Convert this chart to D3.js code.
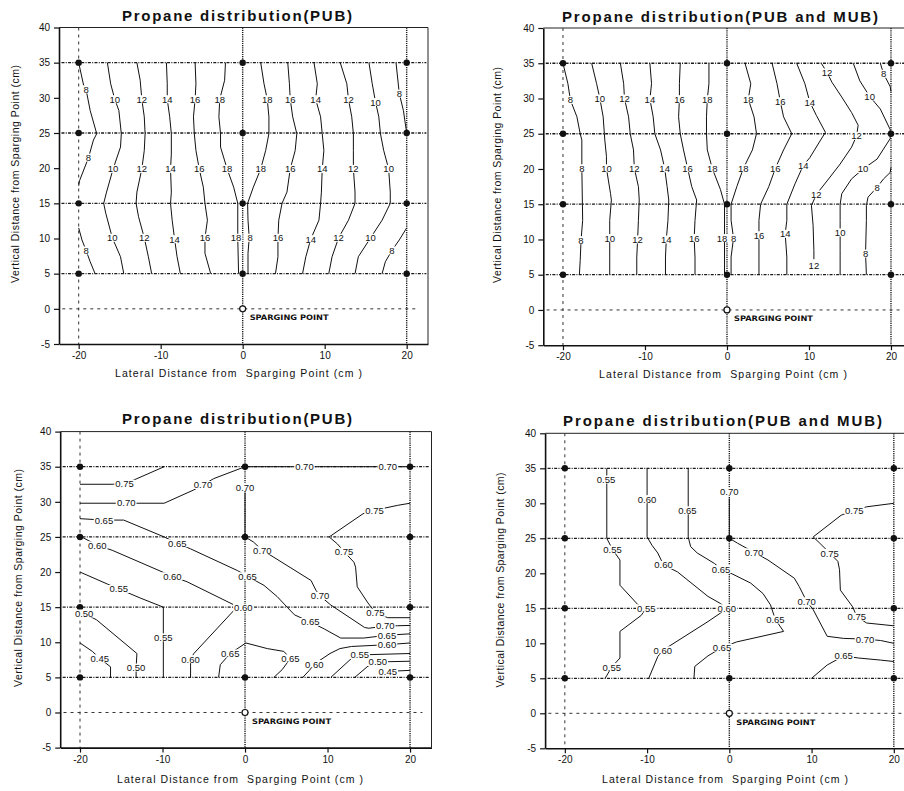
<!DOCTYPE html>
<html>
<head>
<meta charset="utf-8">
<script src="https://cdn.jsdelivr.net/npm/d3@7"></script>
<style>
  body { margin: 0; background: #fff; }
  svg { display: block; }
</style>
</head>
<body>
<svg id="chart" width="904" height="791"></svg>
<script>
// ---------- shared axis / layout values ----------
const xDomain = [-22.4, 22.6];
const yDomain = [-5, 40];
const xTicks = [-20, -10, 0, 10, 20];
const yTicks = [-5, 0, 5, 10, 15, 20, 25, 30, 35, 40];
const wellX = [-20, 0, 20];          // monitoring well positions (cm)
const portDepths = [35, 25, 15, 5];  // sampling port depths (cm)
const spargePoint = [0, 0];
const titles = [
  "Propane distribution(PUB)",
  "Propane distribution(PUB and MUB)",
  "Propane distribution(PUB)",
  "Propane distribution(PUB and MUB)"
];
const xTitle = "Lateral Distance from  Sparging Point (cm )";
const yTitle = "Vertical Distance from Sparging Point (cm)";
const spargeText = "SPARGING POINT";

// ---------- isolines: PUB, concentration ----------
const pubConcLines = [
  { level: 8,  path: [[-20,35],[-19.4,31.8],[-19.1,31.2],[-18.6,28.2],[-17.8,24.9],[-18.2,24],[-18.8,21.5],[-19.9,18.2],[-20,17.5]] },
  { level: 8,  path: [[-20,11.5],[-19.6,9.8],[-19.1,8.3],[-18.6,6.7],[-18,5]] },
  { level: 10, path: [[-16.5,35],[-16.1,32],[-15.6,29.8],[-15.1,28.2],[-14.8,24.9],[-14.9,23],[-15.8,19.9],[-16.6,16.6],[-16.95,15],[-16.7,13.6],[-15.9,10.1],[-14.9,7.4],[-14.5,5]] },
  { level: 12, path: [[-12.9,35],[-12.5,32.5],[-12.3,29.8],[-12.0,27.3],[-11.9,24.9],[-12.0,22.5],[-12.3,19.9],[-12.9,16.6],[-13.0,15],[-12.7,13.1],[-12.0,10.1],[-11.5,7.4],[-11.1,5]] },
  { level: 14, path: [[-9.3,35],[-9.2,32],[-9.2,29.8],[-8.9,27.3],[-8.7,24.9],[-8.7,22],[-8.8,19.9],[-8.7,16.6],[-8.8,15],[-8.6,12.6],[-8.3,9.9],[-8.0,7.4],[-7.6,5]] },
  { level: 16, path: [[-5.8,35],[-5.7,32],[-5.8,29.8],[-6.0,27.3],[-5.9,24.9],[-5.7,22.5],[-5.3,19.9],[-4.8,17.3],[-4.6,15],[-4.3,12.6],[-4.6,10.1],[-4.6,7.9],[-3.9,5]] },
  { level: 18, path: [[-2.1,35],[-2.2,32.5],[-2.8,29.8],[-2.9,27.3],[-2.7,24.9],[-2.7,23],[-1.9,19.9],[-1.1,17.3],[-0.6,15],[-0.6,10.1],[-0.5,5]] },
  { level: 18, path: [[2.2,35],[2.6,32],[3.0,29.8],[3.2,27.3],[3.2,24.9],[2.8,22.5],[2.2,19.9],[1.3,17.3],[0.6,15],[0.65,12.6],[0.8,10.1],[0.65,7.9],[0.65,5]] },
  { level: 16, path: [[5.5,35],[5.7,32],[5.8,29.8],[6.1,27.3],[6.6,24.9],[6.4,22.5],[5.8,19.9],[5.4,16.6],[4.8,15],[4.4,12.6],[4.3,10.1],[4.3,7.4],[4.0,5]] },
  { level: 14, path: [[8.7,35],[9.1,32],[8.9,29.8],[9.5,27.3],[9.7,24.9],[9.9,22.5],[9.7,19.9],[9.6,16.6],[9.5,15],[9.3,12.6],[8.3,9.9],[7.7,7.4],[7.3,5]] },
  { level: 12, path: [[11.9,35],[12.7,32],[12.9,29.8],[13.3,27.3],[13.5,24.9],[13.5,22.5],[13.5,19.9],[13.7,16.6],[13.7,15],[12.9,12.6],[11.7,10.1],[10.9,7.4],[10.5,5]] },
  { level: 10, path: [[15.4,35],[15.8,32],[16.2,29.4],[16.6,27.3],[16.8,24.9],[17.2,22.5],[17.8,19.9],[18.0,16.6],[18.0,15],[17.0,12.6],[15.6,10.1],[14.1,7.4],[13.7,5]] },
  { level: 8,  path: [[18.7,35],[19.1,30.6],[19.6,28.2],[20,25]] },
  { level: 8,  path: [[20,11.5],[19.1,9.8],[18.2,8.3],[17.4,6.7],[17.0,5]] }
];
const pubConcLabels = [
  ["8",-19.1,31.2],["10",-15.6,29.8],["12",-12.3,29.8],["14",-9.2,29.8],["16",-5.8,29.8],["18",-2.8,29.8],
  ["18",3.0,29.8],["16",5.8,29.8],["14",8.9,29.8],["12",12.9,29.8],["10",16.2,29.4],["8",19.1,30.6],
  ["8",-18.8,21.5],["10",-15.8,19.9],["12",-12.3,19.9],["14",-8.8,19.9],["16",-5.3,19.9],["18",-1.9,19.9],
  ["18",2.2,19.9],["16",5.8,19.9],["14",9.7,19.9],["12",13.5,19.9],["10",17.8,19.9],
  ["8",-19.1,8.3],["10",-15.9,10.1],["12",-12.0,10.1],["14",-8.3,9.9],["16",-4.6,10.1],["18",-0.8,10.1],
  ["8",0.9,10.1],["16",4.3,10.1],["14",8.3,9.9],["12",11.7,10.1],["10",15.6,10.1],["8",18.2,8.3]
];

// ---------- isolines: PUB and MUB, concentration ----------
const mubConcLines = [
  { level: 8,  path: [[-20,35],[-19.4,32.1],[-19.1,29.8],[-18.3,27.4],[-17.9,25],[-17.7,24.1],[-17.7,20.1],[-17.6,12.7],[-17.8,9.9],[-17.9,7],[-18.0,5]] },
  { level: 10, path: [[-16.5,35],[-15.9,32.1],[-15.5,30],[-15.1,27.4],[-14.9,24.1],[-14.7,21.8],[-14.7,20.1],[-14.2,16.5],[-14.1,15.6],[-14.3,12.7],[-14.3,10.2],[-14.3,7.5],[-14.3,5]] },
  { level: 12, path: [[-13.0,35],[-12.6,32.1],[-12.5,30],[-12.0,27.4],[-11.8,25],[-11.4,22.7],[-11.3,20.1],[-10.8,17.5],[-10.7,15.6],[-10.8,12.7],[-10.9,10],[-11.0,7.5],[-11.0,5]] },
  { level: 14, path: [[-9.4,35],[-9.2,32.1],[-9.4,29.9],[-9.0,27.4],[-8.8,25],[-8.1,22.7],[-7.6,20.1],[-7.3,17.5],[-7.1,15.6],[-7.2,12.7],[-7.4,10],[-7.5,7.5],[-7.5,5]] },
  { level: 16, path: [[-5.7,35],[-5.8,32.1],[-5.8,29.9],[-5.9,27.4],[-5.7,25],[-5.3,22.7],[-4.8,20.1],[-4.3,17.5],[-3.7,15.6],[-3.9,12.7],[-4.0,10.2],[-3.9,7.5],[-3.9,5]] },
  { level: 18, path: [[-2.2,35],[-2.2,32.1],[-2.4,29.9],[-2.5,27.4],[-2.5,25],[-2.4,22.7],[-1.8,20.1],[-0.8,17.1],[-0.3,15],[-0.3,5]] },
  { level: 18, path: [[2.2,35],[2.9,32.1],[2.6,29.9],[3.3,27.4],[3.6,25],[3.1,22.7],[2.0,20.1],[1.2,17.5],[0.5,15],[0.5,12.7],[0.8,10.2],[0.5,7.5],[0.5,5]] },
  { level: 16, path: [[5.5,35],[6.1,32.1],[6.5,29.6],[6.9,27.4],[7.9,25],[6.9,22.7],[5.9,20.1],[5.1,17.5],[4.1,15],[3.9,12.7],[3.9,10.6],[3.9,7.5],[3.9,5]] },
  { level: 14, path: [[8.5,35],[9.5,32.1],[10.1,29.5],[10.9,27.6],[12.0,25.2],[10.1,21.6],[9.3,20.5],[8.3,17.9],[7.3,15],[7.3,12.7],[7.1,10.8],[7.3,7.5],[7.3,5]] },
  { level: 12, path: [[11.5,35],[12.2,33.7],[12.8,32.3],[14.0,30.2],[15.2,28.0],[16.0,26.2],[15.8,24.7],[15.2,23.1],[13.8,20.7],[12.2,18.3],[10.9,16.4],[10.3,14.8],[10.5,12],[10.6,8.4],[10.6,7.2]] },
  { level: 10, path: [[15.4,35],[16.2,32.5],[17.4,30.3],[18.7,28.5],[19.9,25.6],[19.9,24.3],[18.3,21.4],[16.6,20.0],[15.2,18.6],[14.0,16.5],[13.8,15],[13.8,12.7],[13.8,11],[13.8,8.4],[13.8,5]] },
  { level: 8,  path: [[18.7,35],[19.1,33.5],[19.9,31.7],[20,31]] },
  { level: 8,  path: [[20,20.2],[19.9,19.5],[19.1,18.6],[18.3,17.4],[17.2,16],[17.0,14.8],[17.0,12.7],[16.9,8],[17.0,5]] }
];
const mubConcLabels = [
  ["8",-19.1,29.8],["10",-15.5,30],["12",-12.5,30],["14",-9.4,29.9],["16",-5.8,29.9],["18",-2.4,29.9],
  ["18",2.6,29.9],["16",6.5,29.6],["14",10.1,29.5],["12",12.2,33.7],["10",17.4,30.3],["8",19.1,33.5],
  ["8",-17.7,20.1],["10",-14.7,20.1],["12",-11.3,20.1],["14",-7.6,20.1],["16",-4.8,20.1],["18",-1.8,20.1],
  ["18",2.0,20.1],["16",5.9,20.1],["14",9.3,20.5],["12",15.8,24.7],["10",16.6,20.0],["12",10.9,16.4],["8",18.3,17.4],
  ["8",-17.8,9.9],["10",-14.3,10.2],["12",-10.9,10],["14",-7.4,10],["16",-4.0,10.2],["18",-0.6,10.2],
  ["8",0.8,10.2],["16",3.9,10.6],["14",7.1,10.8],["12",10.6,6.3],["10",13.8,11],["8",16.9,8.0]
];

// ---------- isolines: PUB, fraction ----------
const pubFracLines = [
  { level: 0.75, path: [[-20,32.5],[-16.1,32.5],[-14.6,32.6],[-13.1,33.3],[-9.8,35]] },
  { level: 0.70, path: [[-20,29.8],[-15.7,29.8],[-14.4,29.9],[-13.1,29.8],[-9.8,29.8],[-6.2,31.7],[-5.1,32.4],[-3.8,33.3],[0,35],[20,35]] },
  { level: 0.70, path: [[0,31.3],[0,25],[1,24.3],[2.1,23.1],[3.5,22.1],[8.0,18.8],[8.6,17.4],[9.1,16.6],[10.4,15.3],[14.5,12.1],[15.0,12.0],[17.0,12.3],[18.5,12.35],[20,12.4]] },
  { level: 0.75, path: [[20,29.8],[18.5,29.5],[15.7,28.8],[14.3,28.3],[10.2,25],[11.2,24],[12.0,22.9],[13.2,21.4],[13.4,20.7],[13.6,17.9],[14.9,15.6],[15.8,14.2],[17.3,13.5],[20,13.5]] },
  { level: 0.65, path: [[-20,27.6],[-17.1,27.4],[-14.7,27.4],[-9.8,25],[-8.2,24.1],[-6.6,23.3],[-0.9,20.2],[0.3,19.4],[2.3,18.1],[3.9,16.5],[5.1,15],[6.0,13.9],[7.9,12.9],[9.6,11.9],[11.6,10.6],[14.4,10.6],[17.2,11.0],[20,11.2]] },
  { level: 0.60, path: [[-19.8,25],[-17.9,23.8],[-16.1,23.1],[-9.8,19.9],[-8.8,19.4],[-7.0,18.6],[-1.3,15.3],[-0.2,14.9],[-1.3,14.6],[-6.2,8.4],[-6.6,7.6],[-6.6,6.5],[-6.6,5]] },
  { level: 0.55, path: [[-20,20],[-16.7,18.3],[-15.3,17.6],[-14.5,17.2],[-12.7,16.3],[-9.9,15],[-9.9,5]] },
  { level: 0.50, path: [[-19.5,14.1],[-18,13.2],[-13.1,8.4],[-13.2,6.4],[-13.2,5]] },
  { level: 0.45, path: [[-20,9.9],[-18.5,8.7],[-17.6,7.7],[-16.3,6.5],[-16.3,5]] },
  { level: 0.65, path: [[-3.2,5],[-3.0,6.8],[-1.8,8.4],[0.1,9.9],[2.7,9.1],[4.7,8.7],[5.5,7.7],[4.5,6.1],[3.5,5]] },
  { level: 0.60, path: [[7.0,5],[7.8,6],[8.4,6.9],[10.3,8.4],[11.5,9.1],[12.9,9.4],[17.2,9.65],[20,9.9]] },
  { level: 0.55, path: [[10.4,5],[12.9,7.7],[13.9,8.2],[20,8.4]] },
  { level: 0.50, path: [[13.3,5],[14.9,6.6],[16.1,7.2],[20,7.3]] },
  { level: 0.45, path: [[17.3,5.85],[20,6.0]] }
];
const pubFracLabels = [
  ["0.75",-14.6,32.6],["0.70",-14.4,29.9],["0.70",-5.1,32.4],["0.70",0,32.1],["0.70",7.2,35],["0.70",17.3,35],
  ["0.65",-17.1,27.4],["0.65",-8.2,24.1],["0.75",15.7,28.8],["0.60",-17.9,23.8],["0.70",2.1,23.1],["0.75",12.0,22.9],
  ["0.60",-8.8,19.4],["0.65",0.3,19.4],["0.55",-15.3,17.6],["0.70",9.1,16.6],["0.50",-19.5,14.1],["0.60",-0.2,14.9],
  ["0.75",15.8,14.2],["0.65",7.9,12.9],["0.70",17.0,12.35],["0.65",17.2,11.0],["0.55",-9.9,10.7],["0.60",17.2,9.65],
  ["0.45",-17.6,7.7],["0.50",-13.2,6.4],["0.60",-6.6,7.6],["0.65",-1.8,8.4],["0.65",5.5,7.7],["0.60",8.4,6.9],
  ["0.55",13.9,8.2],["0.50",16.1,7.2],["0.45",17.3,5.85]
];

// ---------- isolines: PUB and MUB, fraction ----------
const mubFracLines = [
  { level: 0.55, path: [[-14.9,35],[-14.9,25],[-14.2,23.4],[-13.3,21.9],[-13.3,18.3],[-11.1,15.5],[-10.1,15.0],[-10.7,14.0],[-13.3,11.7],[-13.3,7.9],[-14.3,6.6],[-15.1,5]] },
  { level: 0.60, path: [[-10,35],[-10,25.2],[-9.4,24],[-8.7,22.9],[-8.0,21.2],[-6.3,20.2],[-2.6,16.7],[-1.1,15.7],[-0.3,15],[-1.1,14.3],[-2.6,13.1],[-8.1,9.0],[-8.7,8.1],[-9.8,5]] },
  { level: 0.65, path: [[-5,35],[-5,25.2],[-4.7,23.8],[-3.9,22.9],[-1.8,21.4],[-1.0,20.6],[0.2,20],[2.6,18.6],[4.1,17.1],[5.0,15.5],[5.6,13.4],[6.6,11.7],[0.9,10.2],[-0.9,9.4],[-2.6,8.2],[-4.2,6.7],[-4.3,5]] },
  { level: 0.70, path: [[0,30.7],[0,25],[1,24.3],[3.0,23],[4.7,21.9],[7.9,19.3],[8.5,18.1],[9.4,16],[10.2,14.8],[11.9,11],[13.9,10.7],[16.5,10.6],[18.4,10.4],[20,10]] },
  { level: 0.75, path: [[20,30],[16.7,29.5],[15.2,29],[13.6,28.3],[10.2,25.2],[11,24.3],[12.2,22.9],[13.2,21.7],[13.4,20.5],[13.5,17.6],[15,15.2],[15.5,13.8],[16.7,12.9],[20,12.5]] },
  { level: 0.65, path: [[10,5],[11.9,6.9],[13.9,8.2],[15.7,7.9],[18.4,7.6],[20,7.4]] }
];
const mubFracLabels = [
  ["0.55",-15.0,33.4],["0.60",-10,30.6],["0.65",-5.1,29.0],["0.70",0,31.7],["0.75",15.2,29.0],
  ["0.55",-14.2,23.4],["0.60",-8.0,21.2],["0.65",-1.0,20.6],["0.70",3.0,23.0],["0.75",12.2,22.9],
  ["0.55",-10.1,15.0],["0.60",-0.3,15.0],["0.70",9.4,16.0],["0.65",5.6,13.4],["0.75",15.5,13.8],
  ["0.60",-8.1,9.0],["0.65",-0.9,9.4],["0.70",16.5,10.6],["0.55",-14.3,6.6],["0.65",13.9,8.2]
];

// ---------- panel placement (pixels) ----------
const panels = [
  { xRange: [59, 428],     yRange: [344, 27.5],    lines: pubConcLines, labels: pubConcLabels,
    title: [237, 21, 230], xt: [238.5, 377, 247], yt: [15, 174, 218] },
  { xRange: [543.3, 912.3], yRange: [345.2, 28],    lines: mubConcLines, labels: mubConcLabels,
    title: [720, 22, 316], xt: [723, 378, 248],   yt: [497, 175, 216] },
  { xRange: [60.2, 431.5],  yRange: [747.6, 431.6], lines: pubFracLines, labels: pubFracLabels,
    title: [237, 424, 230], xt: [240, 783, 246],  yt: [18, 578, 218] },
  { xRange: [545.1, 915.2], yRange: [748.3, 433.3], lines: mubFracLines, labels: mubFracLabels,
    title: [722.5, 426, 319], xt: [725, 783, 246], yt: [500, 580, 215] }
];

const FONT = '"Liberation Sans", Arial, sans-serif';
const INK = "#111";
const svg = d3.select("#chart");

panels.forEach((p, i) => {
  const x = d3.scaleLinear().domain(xDomain).range(p.xRange);
  const y = d3.scaleLinear().domain(yDomain).range(p.yRange);
  const g = svg.append("g");

  // top and right border of the plot box
  g.append("path")
    .attr("d", `M${x(xDomain[0])},${y(yDomain[1])}H${x(xDomain[1])}V${y(yDomain[0])}`)
    .attr("fill", "none").attr("stroke", "#222").attr("stroke-width", 1);

  // horizontal sampling-port lines
  g.selectAll(".port").data(portDepths).join("line")
    .attr("x1", x(-22.1)).attr("x2", x(22.4))
    .attr("y1", d => y(d)).attr("y2", d => y(d))
    .attr("stroke", "#1a1a1a").attr("stroke-width", 1.3)
    .attr("stroke-dasharray", "3,1.3,1,1.3");

  // vertical well lines
  g.selectAll(".well").data(wellX).join("line")
    .attr("x1", d => x(d)).attr("x2", d => x(d))
    .attr("y1", y(yDomain[1])).attr("y2", y(yDomain[0]))
    .attr("stroke", d => d === -20 ? "#333" : "#1a1a1a")
    .attr("stroke-width", d => d === -20 ? 1 : 1.4)
    .attr("stroke-dasharray", d => d === -20 ? "3,4" : "1.2,1");

  // level of the sparging point
  g.append("line")
    .attr("x1", x(-22)).attr("x2", x(21.5))
    .attr("y1", y(0)).attr("y2", y(0))
    .attr("stroke", "#333").attr("stroke-width", 1).attr("stroke-dasharray", "3,4");

  // isolines
  const line = d3.line().x(d => x(d[0])).y(d => y(d[1]));
  g.selectAll(".iso").data(p.lines).join("path")
    .attr("d", d => line(d.path))
    .attr("fill", "none").attr("stroke", INK).attr("stroke-width", 1)
    .attr("stroke-linejoin", "round");

  // sampling ports
  const pts = [];
  wellX.forEach(wx => portDepths.forEach(d => pts.push([wx, d])));
  g.selectAll(".pt").data(pts).join("circle")
    .attr("cx", d => x(d[0])).attr("cy", d => y(d[1])).attr("r", 3.2)
    .attr("fill", INK);

  // isoline labels on white patches
  const patchLayer = g.append("g");
  const textLayer = g.append("g");
  textLayer.selectAll("text").data(p.labels).join("text")
    .attr("x", d => x(d[1])).attr("y", d => y(d[2]))
    .attr("text-anchor", "middle").attr("dominant-baseline", "central")
    .attr("font-family", FONT).attr("font-size", 9.5).attr("fill", INK)
    .text(d => d[0])
    .each(function () {
      const b = this.getBBox();
      patchLayer.append("rect")
        .attr("x", b.x - 1).attr("y", b.y + 1.5)
        .attr("width", b.width + 2).attr("height", b.height - 3)
        .attr("fill", "#fff");
    });

  // sparging point
  g.append("circle")
    .attr("cx", x(spargePoint[0])).attr("cy", y(spargePoint[1])).attr("r", 3)
    .attr("fill", "#fff").attr("stroke", INK).attr("stroke-width", 1.2);
  g.append("text")
    .attr("x", x(0.85)).attr("y", y(-1.25))
    .attr("dominant-baseline", "central")
    .attr("font-family", '"DejaVu Sans", sans-serif').attr("font-weight", "bold")
    .attr("font-size", 7.5).attr("fill", INK)
    .attr("textLength", 79).attr("lengthAdjust", "spacingAndGlyphs")
    .text(spargeText);

  // axes
  const ax = g.append("g").attr("transform", `translate(0,${y(yDomain[0])})`)
    .call(d3.axisBottom(x).tickValues(xTicks).tickSizeInner(5).tickSizeOuter(0)
      .tickPadding(3).tickFormat(d => String(d)));
  const ay = g.append("g").attr("transform", `translate(${x(xDomain[0])},0)`)
    .call(d3.axisLeft(y).tickValues(yTicks).tickSizeInner(5).tickSizeOuter(0)
      .tickPadding(4).tickFormat(d => String(d)));
  [ax, ay].forEach(a => {
    a.select(".domain").attr("stroke", INK).attr("stroke-width", 1.6);
    a.selectAll(".tick line").attr("stroke", INK).attr("stroke-width", 1.2);
    a.selectAll("text").attr("font-family", FONT).attr("font-size", 10).attr("fill", INK);
  });

  // titles
  g.append("text")
    .attr("x", p.title[0]).attr("y", p.title[1])
    .attr("text-anchor", "middle")
    .attr("font-family", FONT).attr("font-weight", "bold").attr("font-size", 15)
    .attr("fill", INK)
    .attr("textLength", p.title[2]).attr("lengthAdjust", "spacing")
    .text(titles[i]);
  g.append("text")
    .attr("x", p.xt[0]).attr("y", p.xt[1])
    .attr("text-anchor", "middle").attr("xml:space", "preserve")
    .style("white-space", "pre")
    .attr("font-family", FONT).attr("font-size", 10.5).attr("fill", INK)
    .attr("textLength", p.xt[2]).attr("lengthAdjust", "spacing")
    .text(xTitle);
  g.append("text")
    .attr("transform", `translate(${p.yt[0]},${p.yt[1]}) rotate(-90)`)
    .attr("text-anchor", "middle").attr("dominant-baseline", "central")
    .attr("font-family", FONT).attr("font-size", 10.5).attr("fill", INK)
    .attr("textLength", p.yt[2]).attr("lengthAdjust", "spacing")
    .text(yTitle);
});
</script>
</body>
</html>
